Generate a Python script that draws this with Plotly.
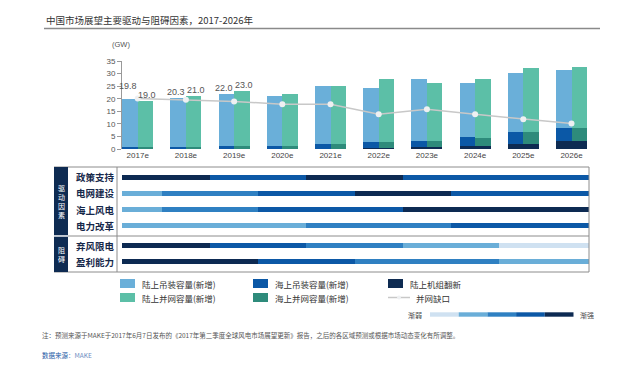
import plotly.graph_objects as go

W, H = 617, 387

# ---------------- data ----------------
years = ["2017e", "2018e", "2019e", "2020e", "2021e", "2022e", "2023e", "2024e", "2025e", "2026e"]
installed_total = [19.8, 20.3, 22.0, 21.1, 25.1, 24.1, 27.8, 26.1, 30.1, 31.3]
grid_total = [19.0, 21.0, 23.0, 21.9, 25.1, 27.8, 26.1, 27.8, 32.2, 32.7]
offshore_installed = [0.9, 0.9, 1.3, 1.3, 2.0, 2.3, 2.5, 3.4, 4.9, 5.0]
offshore_grid = [0.8, 0.8, 1.2, 1.2, 2.0, 2.3, 2.5, 3.0, 4.6, 5.0]
repowering = [0, 0, 0, 0, 0, 0.3, 0.8, 1.3, 2.0, 3.3]
grid_gap = [20.1, 19.6, 18.9, 17.8, 17.8, 13.8, 15.8, 13.8, 11.8, 10.1]
labeled_years = 3

y_ticks = [0, 5, 10, 15, 20, 25, 30, 35]

factor_names = ["政策支持", "电网建设", "海上风电", "电力改革", "弃风限电", "盈利能力"]
factor_groups = [0, 0, 0, 0, 1, 1]
group_names = ["驱动因素", "阻碍"]
# strength level per year (1 = weakest ... 5 = strongest)
factor_levels = [
    [5, 5, 4, 4, 5, 5, 4, 4, 4, 4],
    [2, 3, 3, 4, 4, 5, 5, 4, 4, 4],
    [2, 3, 3, 4, 4, 4, 5, 5, 5, 5],
    [2, 2, 2, 2, 3, 3, 3, 4, 4, 4],
    [5, 5, 4, 4, 3, 3, 2, 2, 1, 1],
    [5, 5, 5, 4, 4, 3, 3, 3, 2, 2],
]

series_names = ["陆上吊装容量(新增)", "海上吊装容量(新增)", "陆上机组翻新",
                "陆上并网容量(新增)", "海上并网容量(新增)", "并网缺口"]
scale_labels = ["渐弱", "渐强"]

# ---------------- styles ----------------
C_ON_INST = "#6aafd9"
C_OFF_INST = "#0b58a6"
C_REPOWER = "#0e2b52"
C_ON_GRID = "#5cbfa7"
C_OFF_GRID = "#2e8b7b"
C_LINE = "#c8c8c8"
LEVEL_COLORS = {1: "#cfe1f1", 2: "#6aaed8", 3: "#2f80c2", 4: "#0c58a6", 5: "#0d2a52"}
GRAY = "#8c8c8c"
FONT = "Liberation Sans, Noto Sans CJK SC, sans-serif"
CJK = "Noto Sans CJK SC, sans-serif"


def px(x):
    return x / W


def py(y):
    return 1 - y / H


X_RANGE = [-0.326, 9.363]
X_DOMAIN = [px(122), px(589)]

fig = go.Figure()

n = len(years)
xs = list(range(n))
onshore_installed = [t - o - r for t, o, r in zip(installed_total, offshore_installed, repowering)]
onshore_grid = [t - o - r for t, o, r in zip(grid_total, offshore_grid, repowering)]

BW = 0.32


def add_stack(parts, offset):
    base = [0.0] * n
    for vals, color, name in parts:
        fig.add_trace(go.Bar(
            x=xs, y=vals, base=list(base), width=BW, offset=offset,
            marker=dict(color=color, line=dict(width=0)), name=name,
            showlegend=False, hoverinfo="skip", xaxis="x", yaxis="y"))
        base = [b + v for b, v in zip(base, vals)]


add_stack([(repowering, C_REPOWER, series_names[2]),
           (offshore_installed, C_OFF_INST, series_names[1]),
           (onshore_installed, C_ON_INST, series_names[0])], -BW)
add_stack([(repowering, C_REPOWER, series_names[2]),
           (offshore_grid, C_OFF_GRID, series_names[4]),
           (onshore_grid, C_ON_GRID, series_names[3])], 0)

fig.add_trace(go.Scatter(
    x=xs, y=grid_gap, mode="lines+markers", name=series_names[5],
    line=dict(color=C_LINE, width=1.5),
    marker=dict(size=6, color="#eef0f2", line=dict(width=0)),
    showlegend=False, hoverinfo="skip", xaxis="x", yaxis="y"))

annotations = []


def ann(x, y, text, size, color="#333", family=CJK, xanchor="center", yanchor="middle",
        xref="paper", yref="paper", **kw):
    annotations.append(dict(x=x, y=y, xref=xref, yref=yref, text=text, showarrow=False,
                            xanchor=xanchor, yanchor=yanchor,
                            font=dict(size=size, color=color, family=family), **kw))


# value labels for first years
for i in range(labeled_years):
    ann(i - BW / 2, installed_total[i], f"{installed_total[i]:.1f}", 9, "#555", FONT,
        xref="x", yref="y", yshift=13 if i == 0 else 6, xshift=-2)
    ann(i + BW / 2, grid_total[i], f"{grid_total[i]:.1f}", 9, "#555", FONT,
        xref="x", yref="y", yshift=6, xshift=2)

# ---------------- factor table ----------------
row_pos = [i + 0.24 * g for i, g in enumerate(factor_groups)]
for r, lv in enumerate(factor_levels):
    start = 0
    for k in range(1, n + 1):
        if k == n or lv[k] != lv[start]:
            fig.add_trace(go.Bar(
                y=[row_pos[r]], x=[k - start], base=[start - 0.5], orientation="h",
                width=0.31, marker=dict(color=LEVEL_COLORS[lv[start]], line=dict(width=0)),
                showlegend=False, hoverinfo="skip", xaxis="x2", yaxis="y2"))
            start = k

shapes = []
TOP, BOT, SEP = 167, 272, 236
LEFT, STRIP_R, LABEL_R, RIGHT = 54, 68, 117, 589
line_style = dict(color=GRAY, width=1)


def pline(x0, y0, x1, y1, **style):
    shapes.append(dict(type="line", xref="paper", yref="paper", x0=px(x0), x1=px(x1),
                       y0=py(y0), y1=py(y1), line=style or line_style))


def prect(x0, y0, x1, y1, color):
    shapes.append(dict(type="rect", xref="paper", yref="paper", x0=px(x0), x1=px(x1),
                       y0=py(y0), y1=py(y1), fillcolor=color, line=dict(width=0)))


pline(LEFT, TOP, RIGHT, TOP)
pline(LEFT, BOT, RIGHT, BOT)
pline(RIGHT, TOP, RIGHT, BOT)
pline(STRIP_R, SEP, RIGHT, SEP)
pline(LABEL_R, TOP, LABEL_R, BOT)
prect(LEFT, TOP, STRIP_R, SEP - 0.7, C_REPOWER)
prect(LEFT, SEP + 0.7, STRIP_R, BOT, C_REPOWER)

group_centers = [(TOP + SEP) / 2, (SEP + BOT) / 2]
for g, name in enumerate(group_names):
    ann(px((LEFT + STRIP_R) / 2), py(group_centers[g]), "<br>".join(name), 7, "white")

Y2_RANGE = [row_pos[-1] + 0.64, -0.64]
for r, name in enumerate(factor_names):
    ann(px(74), row_pos[r], f"<b>{name}</b>", 9.5, "#16284a", xanchor="left", yref="y2")

# ---------------- manual legend ----------------
leg_items = [
    (120, 283.5, "box", C_ON_INST, series_names[0]),
    (253, 283.5, "box", C_OFF_INST, series_names[1]),
    (388, 283.5, "box", C_REPOWER, series_names[2]),
    (120, 297.5, "box", C_ON_GRID, series_names[3]),
    (253, 297.5, "box", C_OFF_GRID, series_names[4]),
    (388, 297.5, "line", C_LINE, series_names[5]),
]
for x0, yc, kind, color, name in leg_items:
    if kind == "box":
        prect(x0, yc - 4.5, x0 + 15, yc + 4.5, color)
        tx = x0 + 20
    else:
        pline(x0, yc, x0 + 22, yc, color=color, width=1.5)
        shapes.append(dict(type="circle", xref="paper", yref="paper", x0=px(x0 + 9), x1=px(x0 + 13),
                           y0=py(yc - 2), y1=py(yc + 2), fillcolor="#eef0f2", line=dict(width=0)))
        tx = x0 + 26
    ann(px(tx), py(yc), name, 8.5, "#333", xanchor="left")

# strength scale
for lvl in range(1, 6):
    bx = 430 + (lvl - 1) * 28.7
    prect(bx, 316.7, bx + 28.7, 312.3, LEVEL_COLORS[lvl])
ann(px(424), py(314.5), scale_labels[0], 7, "#444", xanchor="right")
ann(px(578), py(314.5), scale_labels[1], 7, "#444", xanchor="left")

# ---------------- titles & notes ----------------
ann(px(44), py(20.5), "中国市场展望主要驱动与阻碍因素，2017-2026年", 9.5, "#333", xanchor="left")
pline(44, 28.5, 600, 28.5, color="#8a8a8a", width=1.5)
ann(px(121), py(45), "(GW)", 7.5, "#555", FONT)
ann(px(40), py(335),
    "注：预测来源于MAKE于2017年6月7日发布的《2017年第二季度全球风电市场展望更新》报告，之后的各区域预测或根据市场动态变化有所调整。",
    6.5, "#555", xanchor="left")
ann(px(40), py(355),
    "<span style='color:#1f5aa6'>数据来源</span><span style='color:#6b8cc0'>：MAKE</span>",
    6.5, "#1f5aa6", xanchor="left")

fig.update_layout(
    template="none",
    width=W, height=H, autosize=False,
    margin=dict(l=0, r=0, t=0, b=0, pad=0),
    paper_bgcolor="white", plot_bgcolor="rgba(0,0,0,0)",
    barmode="overlay", bargap=0,
    showlegend=False,
    font=dict(family=FONT),
    xaxis=dict(domain=X_DOMAIN, range=X_RANGE, tickvals=xs, ticktext=years, showgrid=False,
               zeroline=False, showline=False, ticks="", tickfont=dict(size=8, color="#444"),
               anchor="y", fixedrange=True, automargin=False),
    yaxis=dict(domain=[py(149), py(61)], range=[0, 35], tickvals=y_ticks, showgrid=False,
               zeroline=False, showline=True, linecolor="#999", linewidth=1, ticks="outside",
               ticklen=4, tickcolor="#999", tickfont=dict(size=8, color="#555"),
               anchor="x", fixedrange=True, automargin=False),
    xaxis2=dict(domain=X_DOMAIN, range=X_RANGE, visible=False, anchor="y2", fixedrange=True),
    yaxis2=dict(domain=[py(BOT), py(TOP)], range=Y2_RANGE, visible=False, anchor="x2", fixedrange=True),
    shapes=shapes,
    annotations=annotations,
)

fig.write_html("out.html", config={"displayModeBar": False},
               post_script="document.body.style.margin='0';document.body.style.overflow='hidden';")
